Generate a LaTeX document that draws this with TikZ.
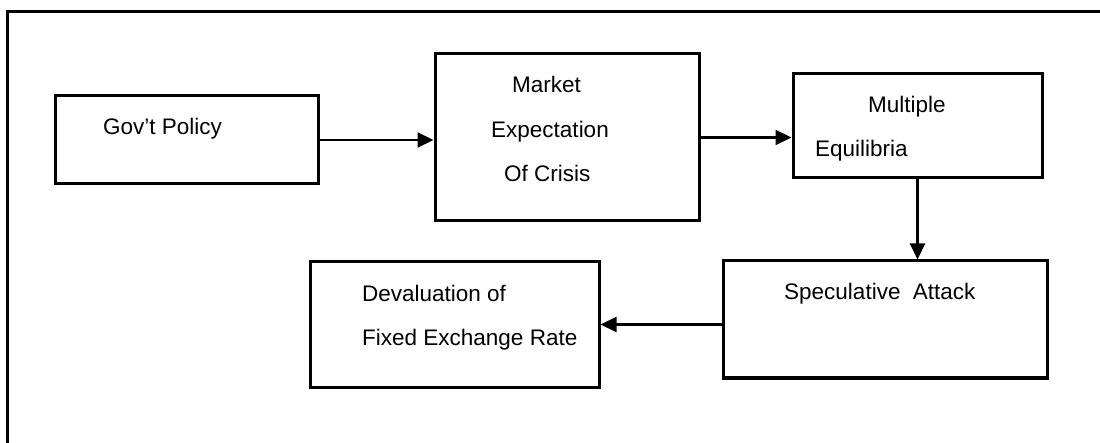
\documentclass[tikz,border=0pt]{standalone}
\usepackage{fontspec}
\setmainfont{Liberation Sans}
\usetikzlibrary{arrows.meta}
\tikzset{
  stage/.style={draw, line width=3pt, rectangle, inner sep=0pt, fill=none},
  label/.style={anchor=base west, inner sep=0pt, font=\fontsize{22.5}{27}\selectfont},
  flow/.style={line width=2.2pt, -{Triangle[length=16pt, width=15pt]}},
  frame/.style={line width=3pt}
}
\begin{document}
\begin{tikzpicture}[x=1pt, y=-1pt]
  \useasboundingbox (0,0) rectangle (1100,443);
  % outer frame (top and left edges)
  \coordinate (ftl) at (7,12);
  \coordinate (ftr) at (1100,12);
  \coordinate (fbl) at (7,443);
  \draw[frame] (ftr) -- (ftl) -- (fbl);

  % boxes
  \node[stage, minimum width=263pt, minimum height=88pt] (gov)   at (186.5,140) {};
  \node[stage, minimum width=264pt, minimum height=167pt] (mkt)  at (567,137.5) {};
  \node[stage, minimum width=249pt, minimum height=104pt] (multi) at (917.5,126) {};
  \node[stage, minimum width=324pt, minimum height=117pt] (spec) at (885,319.5) {};
  \node[stage, minimum width=289pt, minimum height=125pt] (deval) at (454.5,324.5) {};

  % texts
  \node[label] (tgov) at (103,135) {Gov't Policy};
  \node[label] (tmkt1) at (512,93) {Market};
  \node[label] (tmkt2) at (491,138) {Expectation};
  \node[label] (tmkt3) at (504,182) {Of Crisis};
  \node[label] (tmul1) at (868,113) {Multiple};
  \node[label] (tmul2) at (815,157) {Equilibria};
  \node[label] (tspec) at (784,300) {Speculative\hspace{0.55em}Attack};
  \node[label] (tdev1) at (362,302) {Devaluation of};
  \node[label] (tdev2) at (362,346) {Fixed Exchange Rate};

  % connectors
  \draw[flow] (gov.east) -- (gov.east -| mkt.west);
  \draw[flow] (mkt.east) -- (mkt.east -| multi.west);
  \draw[flow] (multi.south) -- (multi.south |- spec.north);
  \draw[flow] (spec.west |- deval.east) -- (deval.east);
\end{tikzpicture}
\end{document}
